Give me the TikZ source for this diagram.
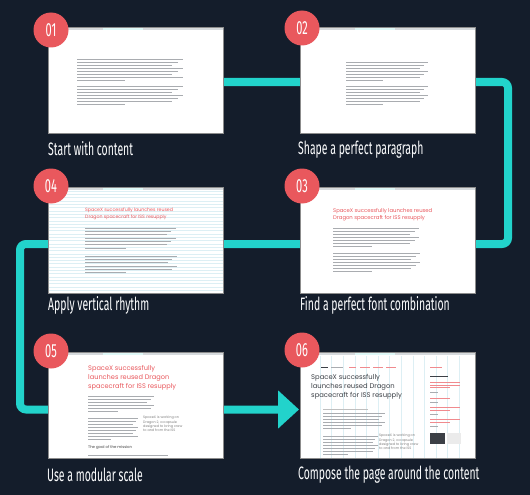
\documentclass[tikz,border=0pt]{standalone}
\usepackage{graphicx}
\usepackage{fontspec}
\setmainfont{Fira Sans}
\newfontfamily\headfont{Poppins}
\usetikzlibrary{arrows.meta}

\definecolor{navy}{HTML}{141D2B}
\definecolor{flowcol}{HTML}{22D3CB}
\definecolor{coral}{HTML}{E9585D}
\definecolor{barcol}{HTML}{D6DADD}
\definecolor{gridcol}{HTML}{DDEFF4}
\definecolor{inkcol}{HTML}{A9ACB0}
\definecolor{headgrey}{HTML}{3C4046}

\newcommand{\cond}[1]{\scalebox{0.58}[1]{#1}}
% grey lines standing for a paragraph: x, y, width, lines, spacing
\newcommand{\parlines}[5]{%
  \foreach \i in {1,...,#4}{%
    \pgfmathsetmacro{\len}{ifthenelse(\i==#4,0.45,0.9+0.05*mod(\i*5,3))*#3}%
    \draw[txt] (#1,{#2+(\i-1)*#5}) -- ++(\len,0);
  }}
% a browser window with its title bar
\newcommand{\browser}[2]{%
  \node[win] (#1) at (#2) {};
  \fill[barcol] (#1.north west) rectangle ++(175,3);
  \fill[white!85!flowcol] ([xshift=55pt]#1.north west) rectangle ++(40,3);
  \draw[black!45, line width=0.6pt] (#1.north west) rectangle (#1.south east);}

\tikzset{
  win/.style={fill=white, minimum width=175pt, minimum height=106pt, inner sep=0pt, anchor=north west},
  badge/.style={circle, fill=coral, minimum size=35pt, inner sep=0pt, text=white, font=\fontsize{19}{19}\selectfont},
  caption/.style={anchor=west, inner sep=0pt, text=white!90!gridcol, font=\fontsize{18}{18}\selectfont},
  flow/.style={line width=8pt, draw=flowcol, rounded corners=6pt, -{Triangle[length=21pt,width=37pt]}},
  txt/.style={draw=inkcol, line width=0.6pt},
  headline/.style={anchor=north west, inner sep=0pt, align=left, text=coral},
  quote/.style={anchor=north west, inner sep=0pt, align=left, text=black!50, font=\headfont\fontsize{3.4}{4.3}\selectfont},
}

\begin{document}
\begin{tikzpicture}[x=1pt, y=-1pt]
  \fill[navy] (0,0) rectangle (530,495);
  \useasboundingbox (0,0) rectangle (530,495);
  % the path through the steps
  \coordinate (f1) at (135,82);
  \coordinate (f2) at (508,82);
  \coordinate (f3) at (508,244);
  \coordinate (f4) at (20,244);
  \coordinate (f5) at (20,409.5);
  \coordinate (f6) at (299,409.5);
  \draw[flow] (f1) -- (f2) -- (f3) -- (f4) -- (f5) -- (f6);

  % step 1
  \browser{w1}{48,27}
  \parlines{77}{59}{106}{8}{3}
  \parlines{77}{86}{106}{7}{3}
  % step 2
  \browser{w2}{300,27}
  \parlines{346}{62}{82}{7}{3}
  \parlines{346}{86}{82}{7}{3}
  % step 3
  \browser{w3}{300,187}
  \node[headline, font=\headfont\fontsize{5.3}{7}\selectfont] (h3) at (333,208)
    {SpaceX successfully launches reused\\Dragon spacecraft for ISS resupply};
  \parlines{333}{228}{86}{7}{3}
  \parlines{333}{253}{87}{7}{3}
  % step 4
  \browser{w4}{48,187}
  \foreach \k in {0,...,30}
    \draw[gridcol, line width=0.4pt] (48.5,{191+\k*3.3}) -- (222.5,{191+\k*3.3});
  \node[headline, font=\headfont\fontsize{4.7}{7}\selectfont] (h4) at (85,208)
    {SpaceX successfully launches reused\\Dragon spacecraft for ISS resupply};
  \parlines{85}{228}{91}{7}{3.3}
  \parlines{85}{256}{92}{6}{3.3}
  % step 5
  \browser{w5}{48,352}
  \node[headline, font=\headfont\fontsize{6.6}{9.3}\selectfont] (h5) at (88,365)
    {SpaceX successfully\\launches reused Dragon\\spacecraft for ISS resupply};
  \parlines{88}{396}{66}{6}{3}
  \parlines{88}{418}{50}{8}{3}
  \node[quote] (q5) at (143,416)
    {SpaceX is working on\\Dragon 2, a capsule\\designed to bring crew\\to and from the ISS};
  \node[anchor=north west, inner sep=0pt, text=black!75, font=\headfont\fontsize{3.8}{4}\selectfont] (g5) at (88,445)
    {The goal of the mission};
  \draw[txt] (88,455) -- ++(80,0);
  % step 6
  \browser{w6}{300,352}
  \foreach \k in {0,...,12}
    \draw[gridcol, line width=0.4pt] ({320+\k*11.6},355.5) -- ({320+\k*11.6},457.5);
  \draw[headgrey, line width=0.9pt] (321,367) -- ++(7,0);
  \draw[txt] (331,367) -- ++(12,0);
  \foreach \nx/\nw in {349/7, 360/10, 373/10, 386/10}
    \draw[coral!70, line width=0.6pt] (\nx,367) -- ++(\nw,0);
  \draw[coral!70, line width=0.6pt] (430,367) -- ++(12,0);
  \draw[headgrey, line width=0.7pt] (430,376) -- ++(18,0);
  \foreach \sy/\sn in {382/3, 398/1, 407/2, 419/2}{
    \foreach \j in {1,...,\sn}
      \draw[coral!70, line width=0.6pt] (430,{\sy+(\j-1)*2.8}) -- ++({ifthenelse(\j==\sn,20,30)},0);
    \draw[txt] (430,{\sy+\sn*2.8+1.5}) -- ++(8,0);
  }
  \fill[headgrey] (430,433) rectangle (445,444);
  \fill[black!8] (447,433) rectangle (461,444);
  \node[headline, text=headgrey, font=\headfont\fontsize{6.8}{9.3}\selectfont] (h6) at (311,374)
    {SpaceX successfully\\launches reused Dragon\\spacecraft for ISS resupply};
  \draw[draw=black!25, line width=0.6pt] (323,409) -- ++(45,0);
  \parlines{323}{413}{62}{6}{3}
  \parlines{323}{436}{55}{7}{3}
  \node[quote] (q6) at (379,434)
    {SpaceX is working on\\Dragon 2, a capsule\\designed to bring crew\\to and from the ISS};

  % numbered badges
  \node[badge] (n1) at (51,30) {\cond{01}};
  \node[badge] (n2) at (302,28) {\cond{02}};
  \node[badge] (n3) at (302,186) {\cond{03}};
  \node[badge] (n4) at (51,186) {\cond{04}};
  \node[badge] (n5) at (51,351) {\cond{05}};
  \node[badge] (n6) at (302,350) {\cond{06}};

  % captions
  \node[caption] (l1) at (48,149) {\cond{Start with content}};
  \node[caption] (l2) at (298,150) {\cond{Shape a perfect paragraph}};
  \node[caption] (l3) at (300,305) {\cond{Find a perfect font combination}};
  \node[caption] (l4) at (48,305) {\cond{Apply vertical rhythm}};
  \node[caption] (l5) at (47,475) {\cond{Use a modular scale}};
  \node[caption] (l6) at (298,475) {\cond{Compose the page around the content}};
\end{tikzpicture}
\end{document}
